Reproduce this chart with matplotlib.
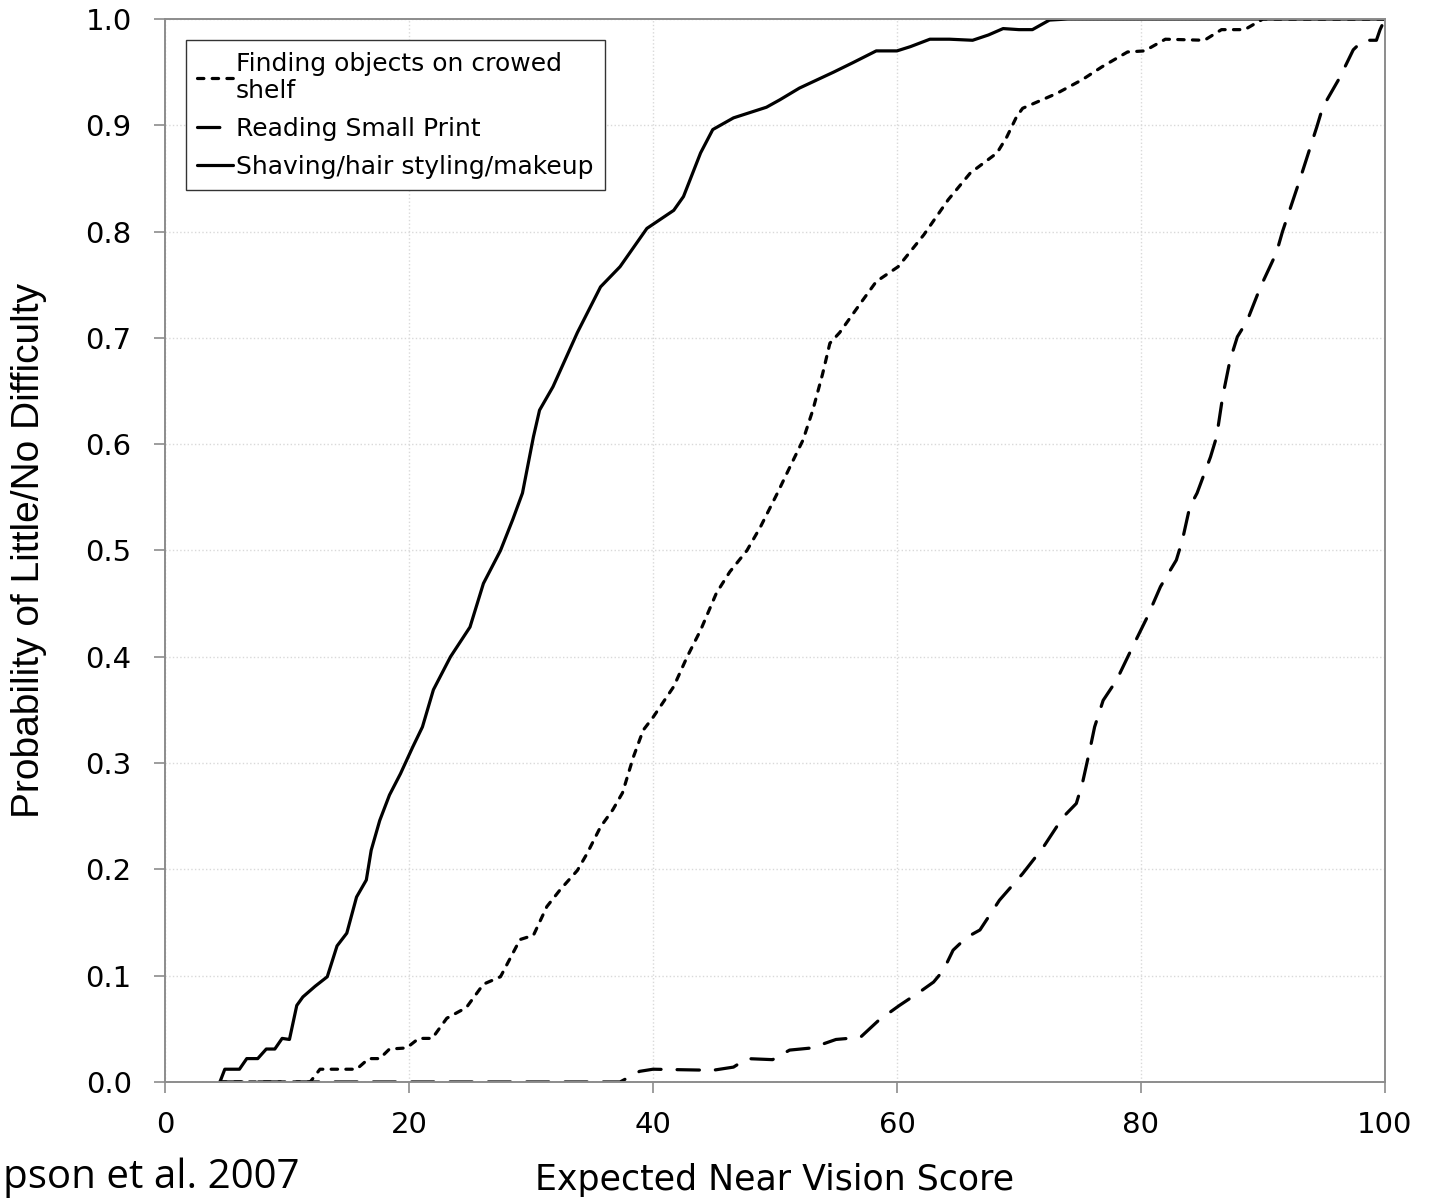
import matplotlib
matplotlib.use("Agg")
import matplotlib.pyplot as plt

# values
shave_x = [4.5, 4.9, 5.3, 6.1, 6.7, 7.6, 8.3, 9.0, 9.6, 10.2, 10.8, 11.3, 12.3, 13.3,
           14.1, 14.9, 15.7, 16.5, 16.9, 17.6, 18.4, 19.3, 20.3, 21.1, 22.0, 23.4, 25.0,
           26.1, 27.5, 28.5, 29.3, 30.2, 30.7, 31.8, 33.8, 35.7, 37.3, 39.5, 41.7, 42.5,
           43.9, 44.9, 46.6, 49.3, 50.4, 52.0, 54.8, 56.4, 58.3, 60.0, 61.1, 62.7, 64.3,
           66.2, 67.5, 68.7, 70.0, 71.1, 72.5, 74.0, 100]
shave_y = [0.0, 0.012, 0.012, 0.012, 0.022, 0.022, 0.031, 0.031, 0.041, 0.04, 0.072, 0.08,
           0.09, 0.099, 0.128, 0.140, 0.174, 0.19, 0.218, 0.246, 0.27, 0.29, 0.315, 0.334,
           0.369, 0.40, 0.428, 0.469, 0.50, 0.529, 0.554, 0.607, 0.632, 0.654, 0.705, 0.748,
           0.767, 0.803, 0.820, 0.833, 0.874, 0.896, 0.907, 0.917, 0.924, 0.935, 0.950,
           0.959, 0.970, 0.970, 0.974, 0.981, 0.981, 0.980, 0.985, 0.991, 0.990, 0.990,
           0.999, 1.0, 1.0]

find_x = [4.5, 11.9, 12.7, 15.7, 16.7, 17.6, 18.4, 19.8, 20.8, 21.9, 23.1, 24.7, 26.1,
          27.5, 29.1, 30.2, 31.3, 32.4, 33.8, 34.6, 35.7, 36.7, 37.5, 38.4, 39.2, 40.0,
          41.7, 42.8, 43.9, 45.2, 46.3, 47.7, 48.8, 50.2, 51.2, 52.3, 53.1, 53.9, 54.5,
          55.3, 57.1, 58.3, 60.1, 62.2, 64.2, 66.0, 68.2, 69.0, 69.8, 70.3, 73.1, 75.2,
          76.8, 78.9, 80.3, 82.0, 85.2, 86.6, 88.5, 90.0, 100]
find_y = [0, 0, 0.012, 0.012, 0.022, 0.022, 0.031, 0.032, 0.041, 0.041, 0.06, 0.07, 0.092,
          0.099, 0.134, 0.138, 0.165, 0.181, 0.199, 0.215, 0.24, 0.256, 0.272, 0.306,
          0.331, 0.343, 0.372, 0.40, 0.425, 0.46, 0.48, 0.50, 0.522, 0.554, 0.578, 0.604,
          0.632, 0.666, 0.695, 0.705, 0.734, 0.753, 0.767, 0.797, 0.83, 0.855, 0.874,
          0.889, 0.908, 0.916, 0.930, 0.943, 0.955, 0.969, 0.970, 0.981, 0.980, 0.990,
          0.990, 1.0, 1.0]

read_x = [4.5, 37.3, 38.9, 40.0, 44.9, 46.6, 47.7, 49.8, 51.2, 53.0, 55.0, 57.0, 58.5,
          60.2, 61.9, 63.0, 63.8, 64.6, 65.7, 66.8, 68.4, 70.3, 72.0, 73.6, 74.7, 75.2,
          75.8, 76.2, 76.9, 78.0, 79.3, 80.5, 81.6, 82.9, 83.4, 84.0, 84.6, 85.7, 86.2,
          86.7, 87.3, 87.9, 88.7, 89.8, 91.1, 91.6, 93.0, 94.4, 94.9, 96.3, 97.4, 98.2,
          99.3, 99.6, 100]
read_y = [0, 0, 0.01, 0.012, 0.011, 0.014, 0.022, 0.021, 0.03, 0.032, 0.04, 0.042, 0.058,
          0.072, 0.085, 0.094, 0.105, 0.124, 0.136, 0.143, 0.171, 0.196, 0.221, 0.249,
          0.262, 0.281, 0.312, 0.334, 0.359, 0.378, 0.409, 0.437, 0.466, 0.491, 0.51,
          0.541, 0.554, 0.588, 0.607, 0.645, 0.679, 0.701, 0.716, 0.748, 0.78, 0.80,
          0.848, 0.898, 0.917, 0.945, 0.971, 0.98, 0.98, 0.99, 1.0]

x_ticks = [0, 20, 40, 60, 80, 100]
y_ticks = [0.0, 0.1, 0.2, 0.3, 0.4, 0.5, 0.6, 0.7, 0.8, 0.9, 1.0]

plt.rcParams["font.family"] = ["DejaVu Sans"]

fig = plt.figure(figsize=(14.3, 12.03), dpi=100)
ax = fig.add_axes([0.1154, 0.1006, 0.8531, 0.8836])

lw = 2.3
ax.plot(find_x, find_y, color="black", lw=lw, linestyle=(0, (2.0, 2.6)),
        dash_capstyle="round", label="Finding objects on crowed\nshelf")
ax.plot(read_x, read_y, color="black", lw=lw, linestyle=(0, (7.0, 5.0)),
        dash_capstyle="round", label="Reading Small Print")
ax.plot(shave_x, shave_y, color="black", lw=lw, solid_capstyle="round",
        label="Shaving/hair styling/makeup")

ax.set_xlim(0, 100)
ax.set_ylim(0, 1.0)
ax.set_xticks(x_ticks)
ax.set_yticks(y_ticks)
ax.set_xticklabels([str(v) for v in x_ticks])
ax.set_yticklabels([f"{v:.1f}" for v in y_ticks])
ax.tick_params(axis="both", direction="out", length=8, width=1.2, color="#8c8c8c",
               labelsize=21, labelcolor="black")
ax.tick_params(axis="x", pad=13)
ax.tick_params(axis="y", pad=16)

ax.grid(True, color="#d9d9d9", linestyle=":", linewidth=1.0)
ax.set_axisbelow(True)
for s in ax.spines.values():
    s.set_color("#8c8c8c")
    s.set_linewidth(1.4)

ax.set_xlabel("Expected Near Vision Score", fontsize=25, labelpad=17)
ax.set_ylabel("Probability of Little/No Difficulty", fontsize=28,
              family=["Liberation Sans Narrow", "DejaVu Sans Condensed", "Liberation Sans"])
ax.yaxis.set_label_coords(-0.097, 0.5)

leg = ax.legend(loc="upper left", bbox_to_anchor=(0.017, 0.98), borderaxespad=0,
                fontsize=18, handlelength=1.45, handletextpad=0.1, labelspacing=0.55,
                borderpad=0.45, fancybox=False, framealpha=1, edgecolor="#333333")
leg.get_frame().set_linewidth(1.0)

fig.text(0.002, 0.004, "pson et al. 2007", fontsize=29, family=["Open Sans", "DejaVu Sans"],
         ha="left", va="bottom")

fig.savefig("out.png", dpi=100)
